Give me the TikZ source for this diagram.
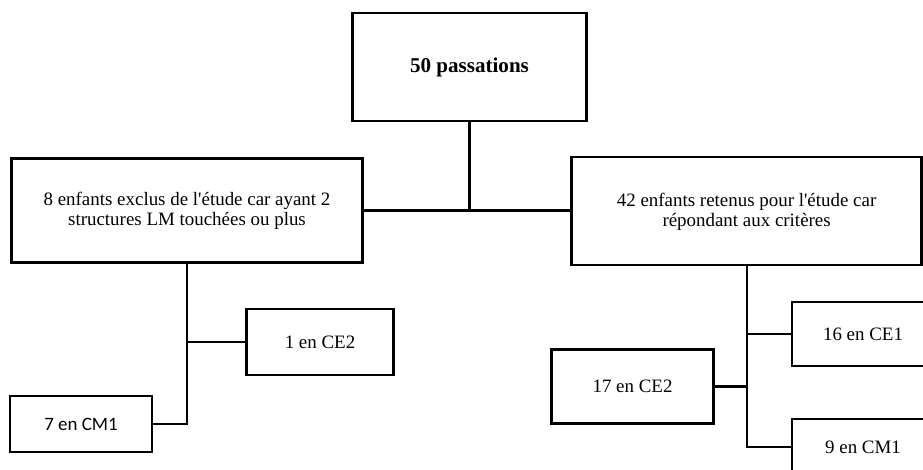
\documentclass[tikz,border=0pt]{standalone}
\usepackage{fontspec}
\setmainfont{Liberation Serif}[Ligatures=TeXOff]
\newfontfamily\calfont{Carlito}
\begin{document}
\begin{tikzpicture}[x=0.75pt,y=-0.75pt,
  box/.style={draw=black,line width=1.9pt,fill=white,inner sep=0pt,align=center,
    font=\fontsize{14.2}{14.8}\selectfont},
  sz/.style 2 args={minimum width=#1*0.75pt,minimum height=#2*0.75pt},
  conn/.style={draw=black,line width=1.6pt}]
\useasboundingbox (0,0) rectangle (923,470);
\clip (0,0) rectangle (923,470);
\fill[white] (0,0) rectangle (923,470);
% nodes
\node[box,sz={234}{108},font=\fontsize{15.8}{18}\selectfont\bfseries] (top) at (469.5,67) {50 passations};
\node[box,sz={351}{104.5},text depth=2pt] (left) at (187,210.5) {8 enfants exclus de l'étude car ayant 2\\structures LM touchées ou plus};
\node[box,sz={350}{108},text depth=2pt] (right) at (746.6,211) {42 enfants retenus pour l'étude car\\répondant aux critères};
\node[box,sz={146.6}{66}] (ce2L) at (320,342) {1 en CE2};
\node[box,sz={142}{56},font=\fontsize{14.2}{16}\calfont] (cm1L) at (81,424) {7 en CM1};
\node[box,sz={142}{64}] (ce1R) at (863,334) {16 en CE1};
\node[box,sz={161.6}{74}] (ce2R) at (632.5,386.5) {17 en CE2};
\node[box,sz={142}{56}] (cm1R) at (863,447) {9 en CM1};
% connectors
\coordinate (hj) at (top.south |- left.east);
\draw[conn] (top.south) -- (hj);
\draw[conn] (left.east) -- (left.east -| right.west);
\draw[conn] (left.south) -- (left.south |- cm1L.east) -- (cm1L.east);
\draw[conn] (left.south |- ce2L.west) -- (ce2L.west);
\draw[conn] (right.south) -- (right.south |- cm1R.west) -- (cm1R.west);
\draw[conn] (right.south |- ce1R.west) -- (ce1R.west);
\draw[conn] (right.south |- ce2R.east) -- (ce2R.east);
\end{tikzpicture}
\end{document}
